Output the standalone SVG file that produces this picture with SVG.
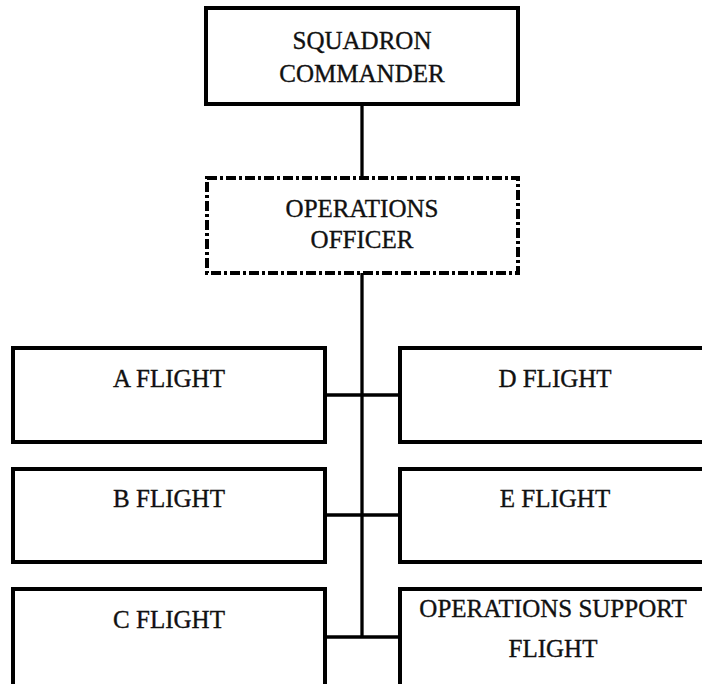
<svg xmlns="http://www.w3.org/2000/svg" width="702" height="684" viewBox="0 0 702 684">
<style>
.box{fill:#fff;stroke:#000;stroke-width:4}
.dash{fill:#fff;stroke:#000;stroke-width:4;stroke-dasharray:10 3 3 3}
.conn{stroke:#000;stroke-width:3.3;fill:none}
text{font-family:"Liberation Serif","Times New Roman",serif;font-size:25px;fill:#111;stroke:#111;stroke-width:0.35;text-anchor:middle}
</style>
<rect width="702" height="684" fill="#fff"/>
<g id="connectors">
<line class="conn" x1="362" y1="104" x2="362" y2="178"/>
<line class="conn" x1="362" y1="273" x2="362" y2="637"/>
<line class="conn" x1="325" y1="395" x2="400" y2="395"/>
<line class="conn" x1="325" y1="515" x2="400" y2="515"/>
<line class="conn" x1="325" y1="637" x2="400" y2="637"/>
</g>
<g id="squadron-commander">
<rect class="box" x="206" y="8" width="312" height="96"/>
<text x="362" y="49">SQUADRON</text>
<text x="362" y="82">COMMANDER</text>
</g>
<g id="operations-officer">
<rect class="dash" x="207" y="178" width="311" height="95"/>
<text x="362" y="217">OPERATIONS</text>
<text x="362" y="248">OFFICER</text>
</g>
<g id="a-flight">
<rect class="box" x="13" y="348" width="312" height="94"/>
<text x="169" y="387">A FLIGHT</text>
</g>
<g id="b-flight">
<rect class="box" x="13" y="469" width="312" height="93"/>
<text x="169" y="507">B FLIGHT</text>
</g>
<g id="c-flight">
<rect class="box" x="13" y="589" width="312" height="120"/>
<text x="169" y="628">C FLIGHT</text>
</g>
<g id="d-flight">
<rect class="box" x="400" y="348" width="312" height="94"/>
<text x="555" y="387">D FLIGHT</text>
</g>
<g id="e-flight">
<rect class="box" x="400" y="469" width="312" height="93"/>
<text x="555" y="507">E FLIGHT</text>
</g>
<g id="operations-support-flight">
<rect class="box" x="400" y="589" width="312" height="120"/>
<text x="553" y="617">OPERATIONS SUPPORT</text>
<text x="553" y="657">FLIGHT</text>
</g>
</svg>
